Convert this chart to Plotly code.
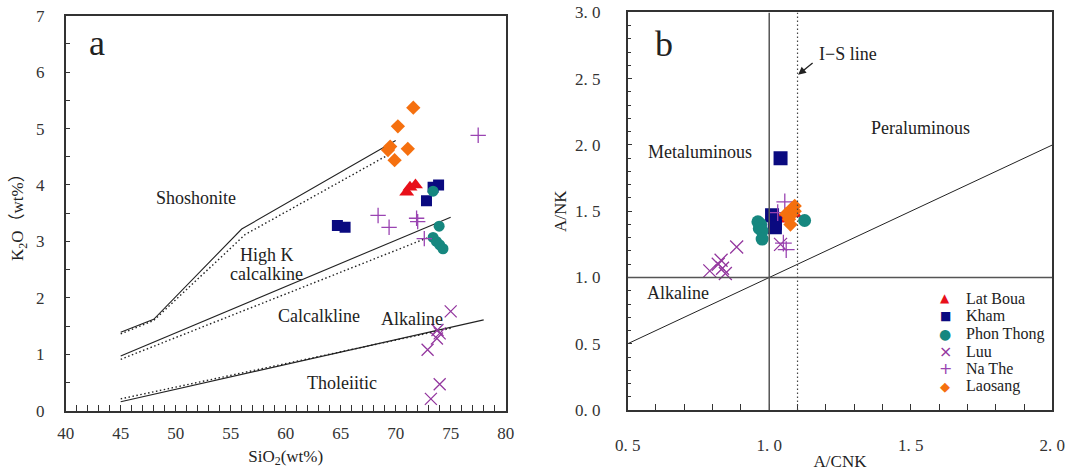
import plotly.graph_objects as go

# ---------------- data: panel a (SiO2 vs K2O) ----------------
lat_boua_sio2 = [71.0, 71.3, 71.8]
lat_boua_k2o = [3.87, 3.96, 4.0]
kham_sio2 = [64.7, 65.4, 72.8, 73.4, 73.9]
kham_k2o = [3.28, 3.25, 3.72, 3.96, 4.0]
phon_sio2 = [73.4, 73.95, 73.4, 73.7, 74.0, 74.3]
phon_k2o = [3.89, 3.27, 3.07, 3.0, 2.94, 2.87]
luu_sio2 = [75.0, 73.8, 74.0, 73.75, 72.9, 74.0, 73.2]
luu_k2o = [1.76, 1.43, 1.37, 1.28, 1.08, 0.47, 0.21]
nathe_sio2 = [77.5, 68.4, 69.4, 71.9, 72.0, 72.6]
nathe_k2o = [4.88, 3.46, 3.25, 3.41, 3.35, 3.05]
laosang_sio2 = [69.3, 69.5, 69.9, 70.2, 71.1, 71.6]
laosang_k2o = [4.62, 4.68, 4.44, 5.04, 4.64, 5.37]

# series boundaries (solid and dotted versions)
sho_solid_x = [45, 48, 56, 70]
sho_solid_y = [1.39, 1.62, 3.22, 4.79]
sho_dot_x = [45, 48, 56.3, 69.2]
sho_dot_y = [1.36, 1.6, 3.12, 4.52]
hk_solid_x = [45, 75]
hk_solid_y = [0.97, 3.43]
hk_dot_x = [45, 73.1]
hk_dot_y = [0.91, 3.08]
th_solid_x = [45, 78]
th_solid_y = [0.16, 1.61]
th_dot_x = [45, 75]
th_dot_y = [0.21, 1.46]

# ---------------- data: panel b (A/CNK vs A/NK) ----------------
lat_boua_acnk = [1.04, 1.06, 1.09]
lat_boua_ank = [1.44, 1.47, 1.48]
kham_acnk = [1.04, 1.01, 1.02, 1.02]
kham_ank = [1.9, 1.47, 1.41, 1.38]
phon_acnk = [0.96, 0.97, 0.965, 0.975, 0.975, 1.125]
phon_ank = [1.42, 1.40, 1.37, 1.35, 1.29, 1.43]
luu_acnk = [0.79, 0.82, 0.83, 0.835, 0.845, 0.885, 1.04]
luu_ank = [1.05, 1.10, 1.13, 1.07, 1.03, 1.23, 1.25]
nathe_acnk = [1.055, 1.03, 1.06, 1.05]
nathe_ank = [1.57, 1.49, 1.21, 1.26]
laosang_acnk = [1.06, 1.08, 1.09, 1.07, 1.075, 1.09]
laosang_ank = [1.48, 1.52, 1.54, 1.44, 1.40, 1.50]

diag_x = [0.5, 2.0]
diag_y = [0.5, 2.0]

x_ticks_b = [0.5, 1.0, 1.5, 2.0]
x_ticktext_b = ["0. 5", "1. 0", "1. 5", "2. 0"]
y_ticks_b = [0.0, 0.5, 1.0, 1.5, 2.0, 2.5, 3.0]
y_ticktext_b = ["0. 0", "0. 5", "1. 0", "1. 5", "2. 0", "2. 5", "3. 0"]

legend_names = ["Lat Boua", "Kham", "Phon Thong", "Luu", "Na The", "Laosang"]
legend_glyphs = ["▲", "■", "●", "×", "+", "◆"]

SERIF = "Liberation Serif, Noto Sans CJK SC, serif"
C_RED = "#e8101a"
C_NAVY = "#0a0a80"
C_TEAL = "#16877f"
C_PURP = "#94389f"
C_PURP2 = "#9a44b2"
C_ORNG = "#f5700f"
TXT = "#222"

fig = go.Figure()

# boundary lines, panel a
for xs, ys, dash, w in [
    (sho_solid_x, sho_solid_y, "solid", 1.1), (sho_dot_x, sho_dot_y, "1.5px,2.5px", 1.4),
    (hk_solid_x, hk_solid_y, "solid", 1.1), (hk_dot_x, hk_dot_y, "1.5px,2.5px", 1.4),
    (th_solid_x, th_solid_y, "solid", 1.1), (th_dot_x, th_dot_y, "1.5px,2.5px", 1.4),
]:
    fig.add_trace(go.Scatter(x=xs, y=ys, mode="lines", xaxis="x", yaxis="y",
                             line=dict(color="#222", width=w, dash=dash),
                             showlegend=False, hoverinfo="skip"))

# panel b reference line (A/NK = A/CNK)
fig.add_trace(go.Scatter(x=diag_x, y=diag_y, mode="lines", xaxis="x2", yaxis="y2",
                         line=dict(color="#222", width=1.0), showlegend=False, hoverinfo="skip"))

series = [
    ("Lat Boua", "triangle-up", C_RED, 13, 13, lat_boua_sio2, lat_boua_k2o, lat_boua_acnk, lat_boua_ank),
    ("Kham", "square", C_NAVY, 11, 14, kham_sio2, kham_k2o, kham_acnk, kham_ank),
    ("Phon Thong", "circle", C_TEAL, 11, 13, phon_sio2, phon_k2o, phon_acnk, phon_ank),
    ("Luu", "x-thin-open", C_PURP, 12, 13, luu_sio2, luu_k2o, luu_acnk, luu_ank),
    ("Na The", "cross-thin-open", C_PURP2, 11, 12, nathe_sio2, nathe_k2o, nathe_acnk, nathe_ank),
    ("Laosang", "diamond", C_ORNG, 11, 11, laosang_sio2, laosang_k2o, laosang_acnk, laosang_ank),
]

for name, sym, col, sa, sb, xa, ya, xb, yb in series:
    thin = "thin" in sym
    mk_a = dict(symbol=sym, size=sa, color=col,
                line=dict(width=1.3 if thin else 0, color=col))
    mk_b = dict(symbol=sym, size=sb, color=col,
                line=dict(width=1.3 if thin else 0, color=col))
    fig.add_trace(go.Scatter(x=xa, y=ya, mode="markers", name=name, xaxis="x", yaxis="y",
                             marker=mk_a, showlegend=False))
    fig.add_trace(go.Scatter(x=xb, y=yb, mode="markers", name=name, xaxis="x2", yaxis="y2",
                             marker=mk_b, showlegend=False))

axis_common = dict(showgrid=False, zeroline=False, showline=True, mirror=True,
                   linecolor="#333", linewidth=1.5, ticks="inside", tickcolor="#333",
                   automargin=False,
                   tickfont=dict(family=SERIF, size=17, color="#333"))
title_font = dict(family=SERIF, size=17, color=TXT)

fig.update_layout(
    width=1070, height=471,
    margin=dict(l=0, r=0, t=0, b=0, autoexpand=False),
    paper_bgcolor="white", plot_bgcolor="white",
    showlegend=False,
    xaxis=dict(domain=[0.0614, 0.4726], range=[40, 80], dtick=5, ticklen=6,
               ticklabelstandoff=6,
               minor=dict(dtick=1, ticks="inside", ticklen=6, tickcolor="#333"),
               title=dict(text="SiO<sub>2</sub>(wt%)", standoff=8, font=title_font),
               anchor="y", **axis_common),
    yaxis=dict(domain=[0.128, 0.9667], range=[0, 7], dtick=1, ticklen=5,
               ticklabelstandoff=16,
               minor=dict(dtick=0.5, ticks="inside", ticklen=5, tickcolor="#333"),
               title=dict(text="K<sub>2</sub>O（wt%）", standoff=8, font=title_font),
               anchor="x", **axis_common),
    xaxis2=dict(domain=[0.5866, 0.9835], range=[0.5, 2.0], tickvals=x_ticks_b,
                ticktext=x_ticktext_b, ticklen=6, ticklabelstandoff=19,
                minor=dict(dtick=0.1, ticks="inside", ticklen=6, tickcolor="#333"),
                title=dict(text="A/CNK", standoff=4, font=title_font),
                anchor="y2", **axis_common),
    yaxis2=dict(domain=[0.1295, 0.9735], range=[0, 3.0], tickvals=y_ticks_b,
                ticktext=y_ticktext_b, ticklen=5, ticklabelstandoff=22,
                minor=dict(dtick=0.1, ticks="inside", ticklen=4, tickcolor="#333"),
                title=dict(text="A/NK", standoff=4, font=title_font),
                anchor="x2", **axis_common),
    shapes=[
        dict(type="line", xref="x2", yref="y2", x0=1.0, x1=1.0, y0=0, y1=3.0,
             line=dict(color="#555", width=1.5)),
        dict(type="line", xref="x2", yref="y2", x0=0.5, x1=2.0, y0=1.0, y1=1.0,
             line=dict(color="#555", width=1.5)),
        dict(type="line", xref="x2", yref="y2", x0=1.1, x1=1.1, y0=0, y1=3.0,
             line=dict(color="#444", width=1.2, dash="1.5px,2.5px")),
    ],
)

def label(text, x, y, xref, yref, size=18, xanchor="center", color=TXT, family=SERIF):
    fig.add_annotation(text=text, x=x, y=y, xref=xref, yref=yref, showarrow=False,
                       xanchor=xanchor, yanchor="middle",
                       font=dict(family=family, size=size, color=color))

label("a", 42.85, 6.52, "x", "y", size=36)
label("Shoshonite", 51.85, 3.77, "x", "y")
label("High K", 58.3, 2.76, "x", "y")
label("calcalkine", 58.3, 2.42, "x", "y")
label("Calcalkline", 63.0, 1.68, "x", "y")
label("Alkaline", 71.5, 1.63, "x", "y")
label("Tholeiitic", 65.1, 0.49, "x", "y")

label("b", 0.628, 2.76, "x2", "y2", size=36)
label("I−S line", 1.278, 2.69, "x2", "y2")
label("Peraluminous", 1.533, 2.13, "x2", "y2")
label("Metaluminous", 0.756, 1.944, "x2", "y2")
label("Alkaline", 0.678, 0.88, "x2", "y2")

fig.add_annotation(text="", x=1.102, y=2.53, xref="x2", yref="y2", ax=16, ay=-13,
                   showarrow=True, arrowhead=2, arrowsize=1.2, arrowwidth=1.3,
                   arrowcolor="#222")

# legend drawn as text rows (symbol + name)
legend_colors = [C_RED, C_NAVY, C_TEAL, C_PURP, C_PURP2, C_ORNG]
legend_sizes = [12, 12, 14, 16, 16, 13]
row0, row_step = 298.3, 17.6
for i, (nm, gl, col, gs) in enumerate(zip(legend_names, legend_glyphs, legend_colors, legend_sizes)):
    yp = 1 - (row0 + i * row_step) / 471
    label(gl, 945 / 1070, yp, "paper", "paper", size=gs, color=col,
          family="DejaVu Sans, sans-serif")
    label(nm, 964 / 1070, yp, "paper", "paper", size=16, xanchor="left")

fig.write_html("out.html")
